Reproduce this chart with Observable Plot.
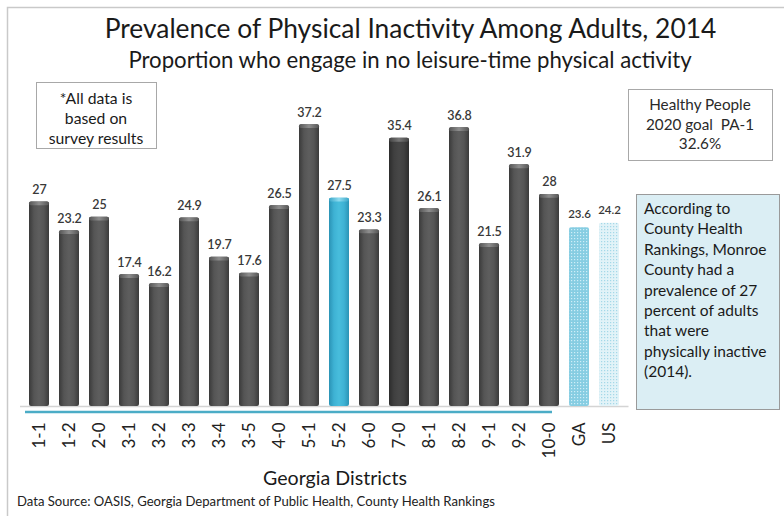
<!DOCTYPE html>
<html><head><meta charset="utf-8">
<script src="https://cdn.jsdelivr.net/npm/d3@7"></script>
<script src="https://cdn.jsdelivr.net/npm/@observablehq/plot@0.6"></script>
<style>
body{margin:0;background:#fff;}
#wrap{position:relative;width:784px;height:516px;overflow:hidden;background:#fff;}
#wrap svg{position:absolute;left:0;top:0;}
</style></head><body><div id="wrap"></div>
<script>
// ---- data ----
const districts = ["1-1","1-2","2-0","3-1","3-2","3-3","3-4","3-5","4-0","5-1","5-2","6-0","7-0","8-1","8-2","9-1","9-2","10-0","GA","US"];
const values = [27,23.2,25,17.4,16.2,24.9,19.7,17.6,26.5,37.2,27.5,23.3,35.4,26.1,36.8,21.5,31.9,28,23.6,24.2];
const kinds = ["d","d","d","d","d","d","d","d","d","d","monroe","d","dd","d","d","d","d","d","ga","us"];
const titleText = "Prevalence of Physical Inactivity Among Adults, 2014";
const subtitleText = "Proportion who engage in no leisure-time physical activity";
const xTitle = "Georgia Districts";
const footerText = "Data Source: OASIS, Georgia Department of Public Health, County Health Rankings";
const noteLines = ["*All data is","based on","survey results"];
const goalLines = ["Healthy People","2020 goal  PA-1","32.6%"];
const countyLines = ["According to","County Health","Rankings, Monroe","County had a","prevalence of 27","percent of adults","that were","physically inactive","(2014)."];

const data = districts.map((d,i)=>({district:d, value:values[i], kind:kinds[i]}));
const FONT = "Lato, 'Open Sans', sans-serif";
const ctx = document.createElement("canvas").getContext("2d");
function fit(text, width, weight="normal"){ ctx.font = `${weight} 100px ${FONT}`; return 100*width/ctx.measureText(text).width; }

const fillFor = {d:"url(#gDark)", dd:"url(#gDarker)", monroe:"url(#gBlue)", ga:"url(#pGA)", us:"url(#pUS)"};
const capFor = {d:"url(#gCap)", dd:"url(#gCapDark)", monroe:"url(#gCapBlue)"};

const plot = Plot.plot({
  width:784, height:516,
  marginLeft:20, marginRight:155.5, marginTop:103, marginBottom:110,
  style:{fontFamily:FONT, background:"transparent", color:"#222"},
  x:{domain:districts, paddingInner:0.34, paddingOuter:0.18, label:null},
  y:{domain:[0,40], axis:null},
  marks:[
    Plot.ruleY([0], {stroke:"#d4d4d4", strokeWidth:1.5}),
    ...Object.keys(fillFor).map(k => Plot.barY(data.filter(d=>d.kind===k), {x:"district", y:"value", fill:fillFor[k], rx:2})),
    ...Object.keys(capFor).map(k => Plot.barY(data.filter(d=>d.kind===k), {x:"district", y1:d=>d.value-0.5, y2:"value", fill:capFor[k], rx:2})),
    Plot.text(data.filter(d=>d.kind!=="ga" && d.kind!=="us"), {x:"district", y:"value", text:d=>String(d.value), dy:-12, fontSize:12.5, fontWeight:600, fill:"#383838"}),
    Plot.text(data.filter(d=>d.kind==="ga" || d.kind==="us"), {x:"district", y:"value", text:d=>String(d.value), dy:-13, fontSize:11.5, fontWeight:600, fill:"#383838"}),
    Plot.axisX({tickRotate:-90, tickSize:0, tickPadding:16, fontSize:17, fill:"#222"})
  ]
});

const svg = d3.select(plot);
const defs = svg.insert("defs", ":first-child");
function hgrad(id, stops){
  const g = defs.append("linearGradient").attr("id", id).attr("x1","0").attr("x2","1").attr("y1","0").attr("y2","0");
  stops.forEach(([o,c])=>g.append("stop").attr("offset",o).attr("stop-color",c));
}
hgrad("gDark", [[0,"#3a3a3a"],[0.25,"#555"],[0.5,"#5e5e5e"],[0.75,"#555"],[1,"#3a3a3a"]]);
hgrad("gDarker", [[0,"#2c2c2c"],[0.25,"#404040"],[0.5,"#474747"],[0.75,"#404040"],[1,"#2c2c2c"]]);
hgrad("gBlue", [[0,"#2b93b5"],[0.25,"#3eb2d4"],[0.5,"#48bddc"],[0.75,"#3eb2d4"],[1,"#2b93b5"]]);
hgrad("gCap", [[0,"#555"],[0.5,"#8e8e8e"],[1,"#555"]]);
hgrad("gCapDark", [[0,"#444"],[0.5,"#777"],[1,"#444"]]);
hgrad("gCapBlue", [[0,"#3aa6c8"],[0.5,"#8fdcf0"],[1,"#3aa6c8"]]);
function pattern(id, bg, dot){
  const p = defs.append("pattern").attr("id", id).attr("width",3).attr("height",3).attr("patternUnits","userSpaceOnUse");
  p.append("rect").attr("width",3).attr("height",3).attr("fill",bg);
  p.append("rect").attr("x",1).attr("y",1).attr("width",1.2).attr("height",1.2).attr("fill",dot);
}
pattern("pGA", "#86cde2", "#cfeef7");
pattern("pUS", "#e2f3f8", "#a4d8e8");

// blue underline below the district bars
const xs = plot.scale("x");
const bw = xs.bandwidth;
svg.append("line")
  .attr("x1", xs.apply(districts[0]) - 4).attr("x2", xs.apply("10-0") + bw - 7)
  .attr("y1", 412).attr("y2", 412).attr("stroke", "#4bacc6").attr("stroke-width", 2.5);

// frame
svg.append("path").attr("d","M7.5,516V7.5H784").attr("fill","none").attr("stroke","#c9c9c9").attr("stroke-width",1.5);

function txt(s, x, y, size, anchor="middle", color="#1a1a1a", weight="normal"){
  svg.append("text").attr("x",x).attr("y",y).attr("text-anchor",anchor)
    .attr("font-family",FONT).attr("font-size",size).attr("font-weight",weight).attr("fill",color).text(s);
}
txt(titleText, 410.5, 38, fit(titleText, 615));
txt(subtitleText, 410, 68, fit(subtitleText, 564));
txt(xTitle, 335, 485, fit(xTitle, 144));
txt(footerText, 17, 506, fit(footerText, 479), "start", "#222");

// note box
svg.append("rect").attr("x",36.5).attr("y",82.5).attr("width",120).attr("height",66).attr("fill","#fff").attr("stroke","#a8a8a8");
const nSize = fit(noteLines[2], 95);
noteLines.forEach((s,i)=>txt(s, 96, 104 + i*20, nSize, "middle", "#1a1a1a"));

// goal box
svg.append("rect").attr("x",628.5).attr("y",89.5).attr("width",144).attr("height",71).attr("fill","#fff").attr("stroke","#a8a8a8");
const gSize = fit(goalLines[0], 102);
goalLines.forEach((s,i)=>txt(s, 700, 110 + i*19.5, gSize, "middle", "#2a2a2a"));

// county box
svg.append("rect").attr("x",636.5).attr("y",194.5).attr("width",143).attr("height",215).attr("fill","#dbeef4").attr("stroke","#9a9a9a");
const cSize = fit(countyLines[7], 123);
countyLines.forEach((s,i)=>txt(s, 644, 214 + i*20.4, cSize, "start", "#1a1a1a"));

document.getElementById("wrap").appendChild(plot);
</script></body></html>
